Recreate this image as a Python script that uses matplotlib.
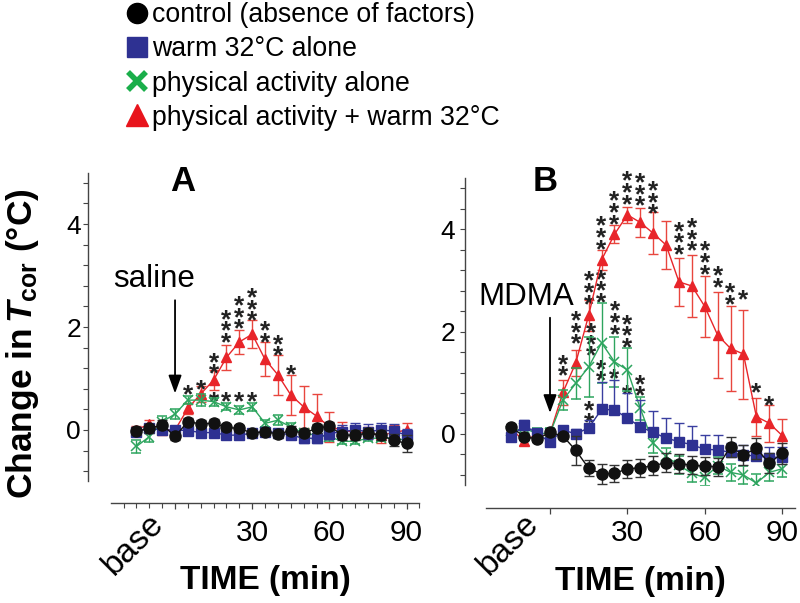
import matplotlib
matplotlib.use('Agg')
import matplotlib.pyplot as plt
from matplotlib.lines import Line2D
from matplotlib.ticker import FixedLocator

plt.rcParams['font.family'] = ['Liberation Sans', 'DejaVu Sans']
plt.rcParams['mathtext.fontset'] = 'custom'
plt.rcParams['mathtext.rm'] = 'Liberation Sans:bold'
plt.rcParams['mathtext.it'] = 'Liberation Sans:italic:bold'
plt.rcParams['mathtext.bf'] = 'Liberation Sans:bold'

# time points (min), same for both panels
time_min = [-15, -10, -5, 0, 5, 10, 15, 20, 25, 30, 35, 40, 45, 50, 55, 60, 65, 70, 75, 80, 85, 90]

# panel A (saline)
a_ctrl = [-0.02, 0.03, 0.10, -0.12, 0.16, 0.12, 0.13, 0.05, 0.03, -0.06, -0.03, -0.08, -0.01, -0.06, 0.03, 0.08, -0.10, -0.10, -0.06, -0.10, -0.20, -0.26]
a_ctrl_err = [0.07, 0.08, 0.09, 0.08, 0.07, 0.07, 0.08, 0.07, 0.07, 0.06, 0.07, 0.08, 0.08, 0.08, 0.08, 0.08, 0.09, 0.10, 0.10, 0.10, 0.12, 0.17]
a_warm = [-0.03, 0.03, 0.00, 0.00, -0.01, -0.05, -0.05, -0.10, -0.10, -0.06, -0.03, -0.05, -0.10, -0.16, -0.16, -0.07, -0.03, 0.00, -0.03, 0.00, -0.02, -0.10]
a_warm_err = [0.06, 0.06, 0.05, 0.05, 0.05, 0.05, 0.05, 0.05, 0.05, 0.05, 0.05, 0.06, 0.08, 0.10, 0.10, 0.10, 0.12, 0.14, 0.14, 0.14, 0.14, 0.12]
a_act = [-0.32, -0.13, 0.16, 0.31, 0.58, 0.58, 0.55, 0.45, 0.39, 0.45, 0.13, 0.19, 0.06, -0.06, -0.10, -0.13, -0.22, -0.22, -0.16, -0.16, -0.16, -0.20]
a_act_err = [0.12, 0.10, 0.12, 0.10, 0.08, 0.12, 0.08, 0.07, 0.07, 0.08, 0.07, 0.10, 0.08, 0.08, 0.08, 0.08, 0.06, 0.06, 0.06, 0.06, 0.06, 0.06]
a_both = [0.00, 0.12, 0.00, 0.00, 0.42, 0.70, 0.97, 1.41, 1.71, 1.86, 1.37, 1.07, 0.68, 0.45, 0.27, 0.06, 0.00, -0.05, -0.05, -0.10, -0.05, 0.00]
a_both_err = [0.08, 0.08, 0.08, 0.08, 0.10, 0.15, 0.20, 0.25, 0.23, 0.27, 0.33, 0.39, 0.38, 0.41, 0.42, 0.29, 0.15, 0.12, 0.10, 0.15, 0.15, 0.13]

# panel B (MDMA)
b_ctrl = [0.13, -0.05, -0.10, 0.03, -0.04, -0.32, -0.67, -0.78, -0.77, -0.68, -0.66, -0.62, -0.56, -0.58, -0.61, -0.63, -0.64, -0.25, -0.41, -0.28, -0.57, -0.38]
b_ctrl_err = [0.06, 0.06, 0.06, 0.06, 0.06, 0.29, 0.16, 0.20, 0.16, 0.18, 0.18, 0.18, 0.18, 0.18, 0.18, 0.18, 0.18, 0.20, 0.20, 0.20, 0.20, 0.20]
b_warm = [-0.05, 0.17, 0.01, -0.16, 0.08, 0.00, 0.12, 0.48, 0.47, 0.31, 0.14, 0.03, -0.08, -0.15, -0.21, -0.30, -0.31, -0.36, -0.41, -0.43, -0.46, -0.45]
b_warm_err = [0.10, 0.10, 0.08, 0.08, 0.08, 0.10, 0.15, 0.54, 0.58, 0.49, 0.52, 0.41, 0.39, 0.36, 0.36, 0.28, 0.29, 0.18, 0.20, 0.18, 0.20, 0.20]
b_act = [0.05, 0.11, 0.01, 0.01, 0.66, 0.99, 1.31, 1.78, 1.41, 1.25, 0.50, -0.18, -0.44, -0.61, -0.77, -0.85, -0.62, -0.75, -0.80, -0.96, -0.75, -0.68]
b_act_err = [0.10, 0.10, 0.10, 0.10, 0.20, 0.30, 0.58, 0.78, 0.49, 0.42, 0.23, 0.20, 0.17, 0.17, 0.17, 0.17, 0.17, 0.17, 0.17, 0.17, 0.17, 0.17]
b_both = [0.10, -0.14, 0.00, 0.01, 0.81, 1.39, 2.32, 3.40, 3.90, 4.28, 4.13, 3.92, 3.69, 2.97, 2.89, 2.49, 1.93, 1.67, 1.56, 0.34, 0.21, -0.03]
b_both_err = [0.08, 0.08, 0.08, 0.08, 0.24, 0.25, 0.30, 0.20, 0.18, 0.16, 0.29, 0.41, 0.47, 0.47, 0.61, 0.59, 0.84, 0.83, 0.87, 0.37, 0.36, 0.33]

# significance marks: (time, level of top star, number of stars)
a_stars = [(5, 0.84, 1), (10, 0.94, 1), (15, 1.46, 2), (20, 2.30, 3), (25, 2.56, 3), (30, 2.72, 3),
           (35, 2.07, 2), (40, 1.81, 2), (45, 1.23, 1),
           (15, 0.70, 1), (20, 0.70, 1), (25, 0.70, 1), (30, 0.70, 1)]
b_stars = [(5, 1.51, 2), (10, 2.36, 3), (15, 3.14, 3), (20, 4.21, 3), (25, 4.70, 3), (30, 5.09, 3),
           (35, 5.06, 3), (40, 4.90, 3), (50, 4.11, 3), (55, 4.18, 3), (60, 3.72, 3), (65, 3.24, 2),
           (70, 2.91, 2), (75, 2.78, 1), (80, 0.96, 1), (85, 0.70, 1),
           (15.8, 2.13, 3), (20, 3.17, 3), (25.2, 2.55, 3), (30, 2.29, 3), (35, 1.12, 2),
           (15, 0.60, 2), (20, 1.41, 2), (25, 1.22, 1), (30, 0.92, 1)]

legend_labels = ['control (absence of factors)', 'warm 32\u00b0C alone',
                 'physical activity alone', 'physical activity + warm 32\u00b0C']

BLACK = '#111111'
BLUE = '#2e3192'
GREEN = '#2ea55f'
RED = '#e8252a'


def draw_panel(ax, ctrl, ctrl_err, warm, warm_err, act, act_err, both, both_err, stars):
    ax.errorbar(time_min, both, yerr=both_err, color=RED, ecolor='#e8463e', marker='^', ms=7.5,
                lw=1, elinewidth=1, capsize=3.5, capthick=1, zorder=3)
    ax.errorbar(time_min, act, yerr=act_err, color=GREEN, ecolor=GREEN, marker='x', ms=7, mew=1.1,
                lw=1, elinewidth=1, capsize=3.5, capthick=1, zorder=4)
    ax.errorbar(time_min, warm, yerr=warm_err, color=BLUE, ecolor='#3a3fa0', marker='s', ms=7,
                lw=1, elinewidth=1, capsize=3.5, capthick=1, zorder=5)
    ax.errorbar(time_min, ctrl, yerr=ctrl_err, color=BLACK, ecolor='#333333', marker='o', ms=8,
                lw=1, elinewidth=1, capsize=3.5, capthick=1, zorder=6)
    for t, top, n in stars:
        for k in range(n):
            ax.annotate('*', xy=(t, top), xytext=(0, -0.58 * 19 - 8.4 * k), textcoords='offset points',
                        ha='center', va='baseline', fontsize=19, fontweight='bold', color='#222222',
                        annotation_clip=False)


def style_axes(ax, left_out, bottom_out, minor_x, xpad, ypad):
    for s in ('top', 'right'):
        ax.spines[s].set_visible(False)
    for s in ('left', 'bottom'):
        ax.spines[s].set_color('#444444')
        ax.spines[s].set_linewidth(1.0)
    ax.spines['left'].set_position(('outward', left_out))
    ax.spines['bottom'].set_position(('outward', bottom_out))
    ax.set_xlim(-25, 95)
    ax.set_ylim(-1, 5)
    ax.set_xticks([0, 30, 60, 90])
    ax.set_xticklabels(['', '30', '60', '90'])
    if minor_x:
        ax.xaxis.set_minor_locator(FixedLocator(list(range(-20, 96, 5))))
    ax.set_yticks([0, 2, 4])
    ax.yaxis.set_minor_locator(FixedLocator([-0.8 + 0.4 * k for k in range(15)]))
    ax.tick_params(axis='x', which='major', length=4.5, width=0.9, color='#444444',
                   labelsize=21.5, pad=xpad)
    ax.tick_params(axis='x', which='minor', length=3.5, width=0.8, color='#444444')
    ax.tick_params(axis='y', which='both', length=3.5, width=0.8, color='#444444',
                   labelsize=19, pad=ypad)
    ax.set_xlabel('TIME (min)', fontsize=24, fontweight='bold')
    ax.xaxis.label.set_va('center')


fig = plt.figure(figsize=(8, 6.03), dpi=100)
ax_a = fig.add_axes([0.1384, 0.2015, 0.3859, 0.5124])
ax_b = fig.add_axes([0.6069, 0.1954, 0.3869, 0.5095])

draw_panel(ax_a, a_ctrl, a_ctrl_err, a_warm, a_warm_err, a_act, a_act_err, a_both, a_both_err, a_stars)
draw_panel(ax_b, b_ctrl, b_ctrl_err, b_warm, [[0] * len(b_warm_err), b_warm_err],
           b_act, b_act_err, b_both, b_both_err, b_stars)

style_axes(ax_a, 16.1, 15.7, True, 6.8, 1.8)
style_axes(ax_b, 14.8, 16.2, False, 3.6, 3.5)
ax_a.xaxis.set_label_coords(0.5, -0.319)
ax_b.xaxis.set_label_coords(0.5, -0.315)

ax_a.text(0.234, 0.972, 'A', transform=ax_a.transAxes, ha='center', va='center',
          fontsize=25, fontweight='bold')
ax_b.text(0.192, 0.987, 'B', transform=ax_b.transAxes, ha='center', va='center',
          fontsize=25, fontweight='bold')

arrow = dict(arrowstyle='-|>,head_length=0.55,head_width=0.2', mutation_scale=20, lw=1.3,
             color='black', shrinkA=0, shrinkB=0)
ax_a.annotate('', xy=(0, 0.71), xytext=(0, 2.52), arrowprops=arrow)
ax_b.annotate('', xy=(0, 0.41), xytext=(0, 2.27), arrowprops=arrow)
ax_a.text(-8.2, 2.77, 'saline', ha='center', va='baseline', fontsize=22.5)
ax_b.text(-9.3, 2.52, 'MDMA', ha='center', va='baseline', fontsize=22.5)

for ax, dy in ((ax_a, -19.0), (ax_b, -16.5)):
    ax.annotate('base', xy=(-10.5, 0), xycoords=('data', 'axes fraction'), xytext=(0, dy),
                textcoords='offset points', rotation=45, rotation_mode='anchor',
                ha='right', va='top', fontsize=24, annotation_clip=False)

fig.text(23 / 800, 1 - 344 / 603, r'Change in$\,T_{\mathrm{cor}}$ (°C)', rotation=90,
         ha='center', va='center', fontsize=25.5, fontweight='bold')

leg_handles = [
    Line2D([], [], ls='none', marker='o', ms=14.5, color='black'),
    Line2D([], [], ls='none', marker='s', ms=14.5, color=BLUE),
    Line2D([], [], ls='none', marker='x', ms=13, mew=4, color='#1aae4a'),
    Line2D([], [], ls='none', marker='^', ms=16, color='#e8141c'),
]
fig.legend(leg_handles, legend_labels, loc='upper left', bbox_to_anchor=(126 / 800, 1 - 2 / 603),
           frameon=False, fontsize=19.2, handlelength=0.8, handletextpad=0.17,
           labelspacing=0.31, borderpad=0, borderaxespad=0)

fig.savefig('out.png', dpi=100)
